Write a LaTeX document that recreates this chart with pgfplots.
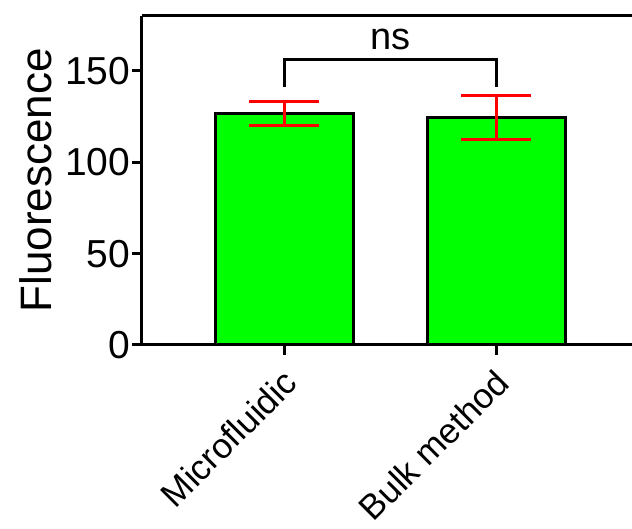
\documentclass[border=0pt]{standalone}
\usepackage{pgfplots}
\pgfplotsset{compat=1.18}
\usetikzlibrary{calc}
\usepackage{fontspec}
\setmainfont{Liberation Sans}
\definecolor{bargreen}{HTML}{00FF00}
\definecolor{errred}{HTML}{FF0000}
\begin{document}
\begin{tikzpicture}
\begin{axis}[
  scale only axis,
  width=245pt,height=164.5pt,
  xmin=-0.67,xmax=1.64,
  ymin=0,ymax=180,
  axis x line*=bottom,axis y line*=left,
  axis line style={-,line width=1.5pt,black},
  xtick={0,1},
  xticklabels={Microfluidic,Bulk method},
  ytick={0,50,100,150},
  tick align=outside,
  major tick length=4.8pt,
  tick style={line width=1.5pt,black},
  /pgf/number format/assume math mode=true,
  yticklabel style={font=\fontsize{19.5}{19.5}\selectfont,xshift=2.5pt},
  xticklabel style={font=\fontsize{17.5}{17.5}\selectfont,rotate=45,anchor=north east,xshift=-2pt},
  ylabel={Fluorescence},
  ylabel style={font=\fontsize{22}{22}\selectfont},
  clip=false,
]
\addplot[ybar,bar width=0.65,fill=bargreen,draw=black,line width=1.5pt,
  error bars/.cd,y dir=both,y explicit,
  error bar style={errred,line width=1.5pt},
  error mark options={rotate=90,errred,mark size=17.5pt,line width=1.5pt}]
  coordinates {(0,126.5) +- (0,6.5) (1,124.5) +- (0,12)};
\draw[line width=1.5pt] (rel axis cs:0,1) -- (rel axis cs:1,1);
\draw[line width=1.5pt] (axis cs:0,141.3) -- (axis cs:0,156) -- (axis cs:1,156) -- (axis cs:1,141.3);
\node[font=\fontsize{19}{19}\selectfont] at (axis cs:0.5,167) {ns};
\coordinate (sw) at (rel axis cs:0,0);
\coordinate (ne) at (rel axis cs:1,1);
\end{axis}
\pgfresetboundingbox
\path[use as bounding box] ($(sw)+(-71pt,-92pt)$) rectangle ($(ne)+(0pt,8pt)$);
\end{tikzpicture}
\end{document}
